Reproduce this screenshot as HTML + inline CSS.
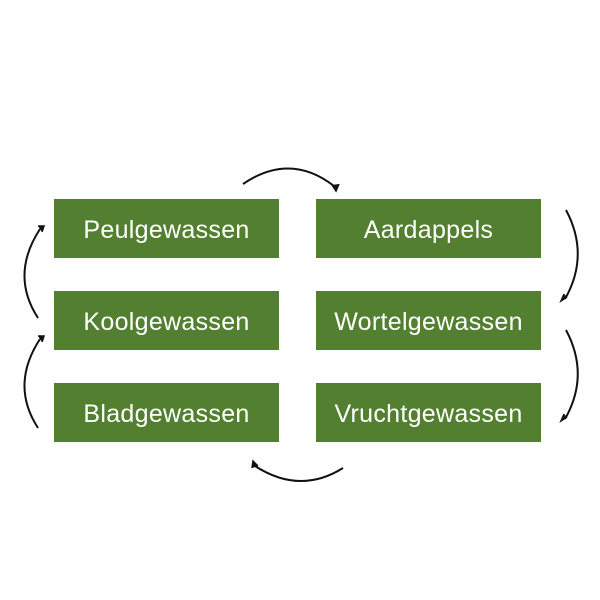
<!DOCTYPE html>
<html><head><style>
body{margin:0;width:600px;height:600px;background:#fff;position:relative;overflow:hidden}
.b{position:absolute;width:225px;height:59px;background:#538030;color:#fff;font-family:"Liberation Sans",sans-serif;font-size:25px;letter-spacing:0.3px;display:flex;align-items:center;justify-content:center;padding-top:3px;box-sizing:border-box}
svg{position:absolute;left:0;top:0}
</style></head><body>
<div class="b" style="left:54px;top:199px">Peulgewassen</div>
<div class="b" style="left:316px;top:199px">Aardappels</div>
<div class="b" style="left:54px;top:291px">Koolgewassen</div>
<div class="b" style="left:316px;top:291px">Wortelgewassen</div>
<div class="b" style="left:54px;top:383px">Bladgewassen</div>
<div class="b" style="left:316px;top:383px">Vruchtgewassen</div>
<svg width="600" height="600" fill="none" stroke="#111" stroke-width="2">
<path d="M243,184 Q290,152 334,186"/><path d="M332,185 L336,191 L339,184" fill="#111" stroke-width="1.5"/>
<path d="M566,210 Q590,255 565,299"/><path d="M567,297 L561,301 L564,294" fill="#111" stroke-width="1.5"/>
<path d="M566,330 Q590,375 565,419"/><path d="M567,417 L561,421 L564,414" fill="#111" stroke-width="1.5"/>
<path d="M343,468 Q300,495 255,466"/><path d="M252,468 L253,461 L258,466" fill="#111" stroke-width="1.5"/>
<path d="M38,318 Q10,275 40,229"/><path d="M38,226 L44,226 L42,232" fill="#111" stroke-width="1.5"/>
<path d="M38,428 Q10,385 40,339"/><path d="M38,336 L44,336 L42,342" fill="#111" stroke-width="1.5"/>
</svg>
</body></html>
